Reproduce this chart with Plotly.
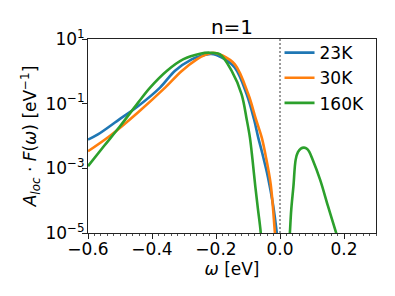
import plotly.graph_objects as go

# ---- data ----
omega_23K = [-0.6, -0.569, -0.5, -0.444, -0.375, -0.328, -0.276, -0.25, -0.215, -0.18,
             -0.141, -0.104, -0.081, -0.068, -0.056, -0.0375, -0.022, -0.0078, 0.0]
A_23K = [0.00776, 0.0112, 0.0339, 0.0832, 0.314, 1.047, 2.344, 2.951, 3.467, 2.630,
         1.300, 0.195, 0.0324, 0.00891, 0.00309, 0.000525, 7.76e-5, 6.46e-6, 1e-6]

omega_30K = [-0.6, -0.531, -0.444, -0.359, -0.307, -0.26, -0.235, -0.209, -0.18,
             -0.141, -0.099, -0.075, -0.057, -0.045, -0.029, -0.016, -0.008]
A_30K = [0.00339, 0.0102, 0.0537, 0.314, 1.028, 2.344, 3.162, 3.776, 3.090,
         1.644, 0.195, 0.0324, 0.00891, 0.00251, 0.000316, 1.05e-5, 1e-6]

omega_160K = [-0.6, -0.55, -0.5, -0.444, -0.406, -0.354, -0.303, -0.25, -0.219, -0.1875,
              -0.151, -0.12, -0.104, -0.094, -0.0859, -0.0772, -0.0688, -0.0603, -0.05,
              0.022, 0.031, 0.035, 0.042, 0.049, 0.056, 0.065, 0.075, 0.085, 0.092,
              0.1, 0.125, 0.15, 0.175, 0.19]
A_160K = [0.00117, 0.0049, 0.0200, 0.106, 0.314, 1.028, 2.344, 3.516, 3.776, 3.350,
          1.028, 0.195, 0.0324, 0.00891, 0.00186, 0.000275, 5.37e-5, 1.05e-5, 3.2e-7,
          3.2e-7, 1.05e-5, 5.0e-5, 0.000282, 0.00186, 0.00316, 0.00407, 0.00437, 0.00398,
          0.00316, 0.00209, 0.000457, 6.76e-5, 1.05e-5, 3.2e-6]

series_names = ["23K", "30K", "160K"]
series_colors = ["#1f77b4", "#ff7f0e", "#2ca02c"]

x_tickvals = [-0.6, -0.4, -0.2, 0.0, 0.2]
x_ticktext = ["\u22120.6", "\u22120.4", "\u22120.2", "0.0", "0.2"]
y_tickvals = [1e-5, 1e-3, 1e-1, 1e1]
y_ticktext = ["10<sup>\u22125</sup>", "10<sup>\u22123</sup>", "10<sup>\u22121</sup>", "10<sup>1</sup>"]

FONT = "DejaVu Sans"

fig = go.Figure()
for xs, ys, name, col in zip([omega_23K, omega_30K, omega_160K],
                             [A_23K, A_30K, A_160K], series_names, series_colors):
    fig.add_trace(go.Scatter(x=xs, y=ys, mode="lines", name=name,
                             line=dict(color=col, width=2.6, shape="spline", smoothing=1.0)))

fig.add_shape(type="line", xref="x", yref="paper", x0=0, x1=0, y0=0, y1=1,
              line=dict(color="black", width=0.8, dash="2px,2px"))

# page has an 8px body margin; figure sized so it fits the 395x296 window
fig.update_layout(
    width=379, height=280,
    margin=dict(l=80, r=11, t=31, b=55),
    paper_bgcolor="white", plot_bgcolor="white",
    font=dict(family=FONT, size=17, color="black"),
    title=dict(text="n=1", x=0.5, xref="paper", xanchor="center",
               y=1 - 19 / 280, yref="container", yanchor="middle",
               font=dict(family=FONT, size=20, color="black")),
    showlegend=True,
    legend=dict(x=0.665, y=1.02, xanchor="left", yanchor="top",
                bgcolor="rgba(0,0,0,0)", borderwidth=0,
                font=dict(family=FONT, size=17, color="black"),
                tracegroupgap=0, itemwidth=30),
    xaxis=dict(range=[-0.6, 0.3], tickvals=x_tickvals, ticktext=x_ticktext,
               showgrid=False, zeroline=False, showline=True, mirror=True,
               linecolor="#222", linewidth=1, ticks="outside", ticklen=5,
               tickcolor="#222", tickwidth=1, ticklabelstandoff=-4,
               minor=dict(dtick=0.02, ticks="outside", ticklen=2, tickcolor="#555",
                          tickwidth=0.8, showgrid=False),
               title=dict(text="<i>\u03c9</i> [eV]", standoff=1,
                          font=dict(family=FONT, size=17))),
    yaxis=dict(type="log", range=[-5, 1], tickvals=y_tickvals, ticktext=y_ticktext,
               showgrid=False, zeroline=False, showline=True, mirror=True,
               linecolor="#222", linewidth=1, ticks="outside", ticklen=5,
               tickcolor="#222", tickwidth=1, ticklabelstandoff=-6,
               title=dict(text="<i>A<sub>loc</sub></i> \u00b7 <i>F</i>(<i>\u03c9</i>) [eV<sup>\u22121</sup>]",
                          standoff=4, font=dict(family=FONT, size=17))),
)

fig.write_html("out.html")
